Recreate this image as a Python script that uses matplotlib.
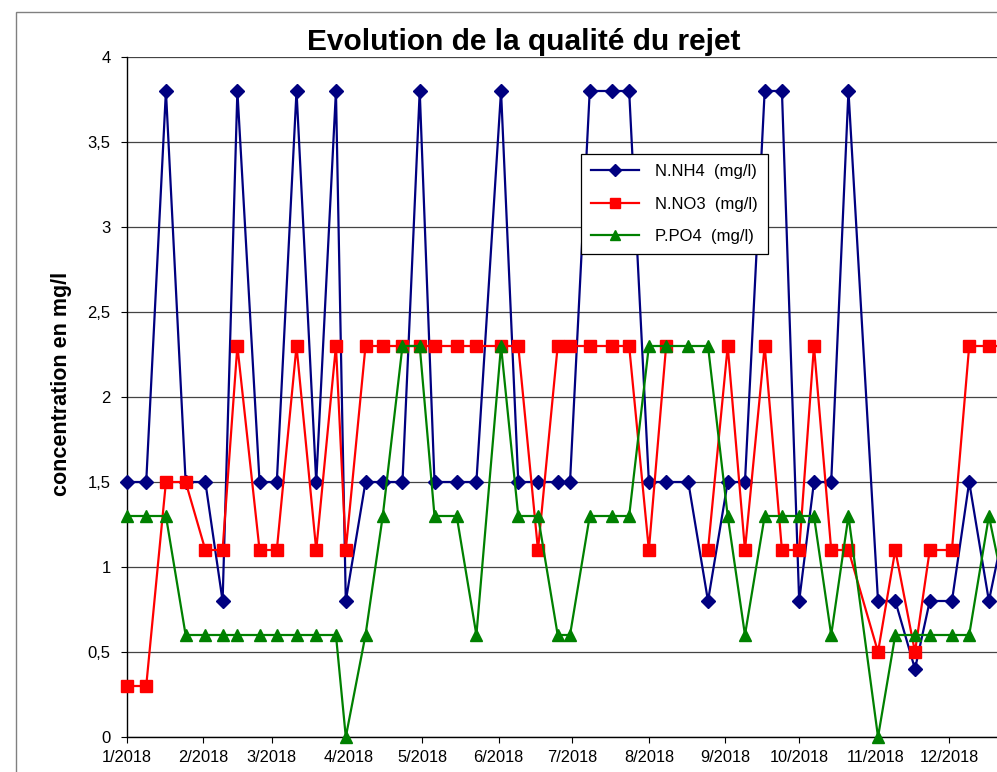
import numpy as np
import pandas as pd
import matplotlib
matplotlib.use("Agg")
import matplotlib.pyplot as plt
import matplotlib.dates as mdates
from matplotlib.ticker import FuncFormatter, MultipleLocator
from matplotlib.patches import Rectangle

plt.rcParams['font.family'] = ['Liberation Sans', 'DejaVu Sans']

title = "Evolution de la qualité du rejet"
ylabel = "concentration en mg/l"
series_names = ["N.NH4  (mg/l)", "N.NO3  (mg/l)", "P.PO4  (mg/l)"]

dates = [
    "2018-01-01", "2018-01-09", "2018-01-17", "2018-01-25", "2018-02-02",
    "2018-02-09", "2018-02-15", "2018-02-24", "2018-03-03", "2018-03-11",
    "2018-03-19", "2018-03-27", "2018-03-31", "2018-04-08", "2018-04-15",
    "2018-04-23", "2018-04-30", "2018-05-06", "2018-05-15", "2018-05-23",
    "2018-06-02", "2018-06-09", "2018-06-17", "2018-06-25", "2018-06-30",
    "2018-07-08", "2018-07-17", "2018-07-24", "2018-08-01", "2018-08-08",
    "2018-08-17", "2018-08-25", "2018-09-02", "2018-09-09", "2018-09-17",
    "2018-09-24", "2018-10-01", "2018-10-07", "2018-10-14", "2018-10-21",
    "2018-11-02", "2018-11-09", "2018-11-17", "2018-11-23", "2018-12-02",
    "2018-12-09", "2018-12-17", "2018-12-27",
]

nh4 = [1.5, 1.5, 3.8, 1.5, 1.5, 0.8, 3.8, 1.5, 1.5, 3.8,
       1.5, 3.8, 0.8, 1.5, 1.5, 1.5, 3.8, 1.5, 1.5, 1.5,
       3.8, 1.5, 1.5, 1.5, 1.5, 3.8, 3.8, 3.8, 1.5, 1.5,
       1.5, 0.8, 1.5, 1.5, 3.8, 3.8, 0.8, 1.5, 1.5, 3.8,
       0.8, 0.8, 0.4, 0.8, 0.8, 1.5, 0.8, 1.5]

no3 = [0.3, 0.3, 1.5, 1.5, 1.1, 1.1, 2.3, 1.1, 1.1, 2.3,
       1.1, 2.3, 1.1, 2.3, 2.3, 2.3, 2.3, 2.3, 2.3, 2.3,
       2.3, 2.3, 1.1, 2.3, 2.3, 2.3, 2.3, 2.3, 1.1, 2.3,
       np.nan, 1.1, 2.3, 1.1, 2.3, 1.1, 1.1, 2.3, 1.1, 1.1,
       0.5, 1.1, 0.5, 1.1, 1.1, 2.3, 2.3, 2.3]

po4 = [1.3, 1.3, 1.3, 0.6, 0.6, 0.6, 0.6, 0.6, 0.6, 0.6,
       0.6, 0.6, 0.0, 0.6, 1.3, 2.3, 2.3, 1.3, 1.3, 0.6,
       2.3, 1.3, 1.3, 0.6, 0.6, 1.3, 1.3, 1.3, 2.3, 2.3,
       2.3, 2.3, 1.3, 0.6, 1.3, 1.3, 1.3, 1.3, 0.6, 1.3,
       0.0, 0.6, 0.6, 0.6, 0.6, 0.6, 1.3, 0.6]

x = pd.to_datetime(dates)

W, H = 997, 772
fig = plt.figure(figsize=(W / 100, H / 100), dpi=100)

# outer chart-area border (extends beyond the cropped image)
fig.patches.append(Rectangle((16 / W, -0.1), 1.2, 1 - 12 / H + 0.1,
                             transform=fig.transFigure, fill=False,
                             edgecolor='#808080', linewidth=1.0, zorder=0))

px_per_day = 2.464
left_px = 126.5
x0 = pd.Timestamp("2018-01-01")
x1 = pd.Timestamp("2018-12-31")
width_px = (x1 - x0).days * px_per_day
ax = fig.add_axes([left_px / W, 35 / H, width_px / W, 680 / H])

ax.plot(x, nh4, color='#000080', lw=1.6, marker='D', ms=7.5,
        mfc='#000080', mec='#000080', label=series_names[0], clip_on=False, zorder=3)
ax.plot(x, no3, color='#FF0000', lw=1.6, marker='s', ms=8,
        mfc='#FF0000', mec='#FF0000', label=series_names[1], clip_on=False, zorder=3)
ax.plot(x, po4, color='#008000', lw=1.6, marker='^', ms=9,
        mfc='#008000', mec='#008000', label=series_names[2], clip_on=False, zorder=3)

ax.set_xlim(x0, x1)
ax.set_ylim(0, 4)
ax.yaxis.set_major_locator(MultipleLocator(0.5))
ax.yaxis.set_major_formatter(FuncFormatter(lambda v, p: f"{v:g}".replace('.', ',')))
ax.xaxis.set_major_locator(mdates.MonthLocator())
ax.xaxis.set_major_formatter(FuncFormatter(
    lambda v, p: f"{mdates.num2date(v).month}/{mdates.num2date(v).year}"))

ax.grid(axis='y', color='#444444', linewidth=0.9)
ax.set_axisbelow(True)
for s in ['top', 'right']:
    ax.spines[s].set_visible(False)
for s in ['left', 'bottom']:
    ax.spines[s].set_color('black')
    ax.spines[s].set_linewidth(1.0)

ax.tick_params(axis='y', length=4.5, width=0.8, pad=7, labelsize=12, colors='black')
ax.tick_params(axis='x', length=4, width=0.8, pad=5, labelsize=11.8, colors='black')

fig.text(523.5 / W, 1 - 50 / H, title, ha='center', va='baseline',
         fontsize=21.5, fontweight='bold')
fig.text(62 / W, 1 - 384 / H, ylabel, ha='center', va='center',
         rotation=90, fontsize=15.5, fontweight='bold')

leg = ax.legend(loc='upper left', bbox_to_anchor=(581 / W, 1 - 154 / H),
                bbox_transform=fig.transFigure, borderaxespad=0,
                fancybox=False, shadow=False, framealpha=1, edgecolor='black',
                fontsize=12, handlelength=2.9, handletextpad=0.95,
                labelspacing=1.05, borderpad=0.6, markerscale=0.85)
leg.get_frame().set_linewidth(0.9)

fig.savefig("out.png", dpi=100)
